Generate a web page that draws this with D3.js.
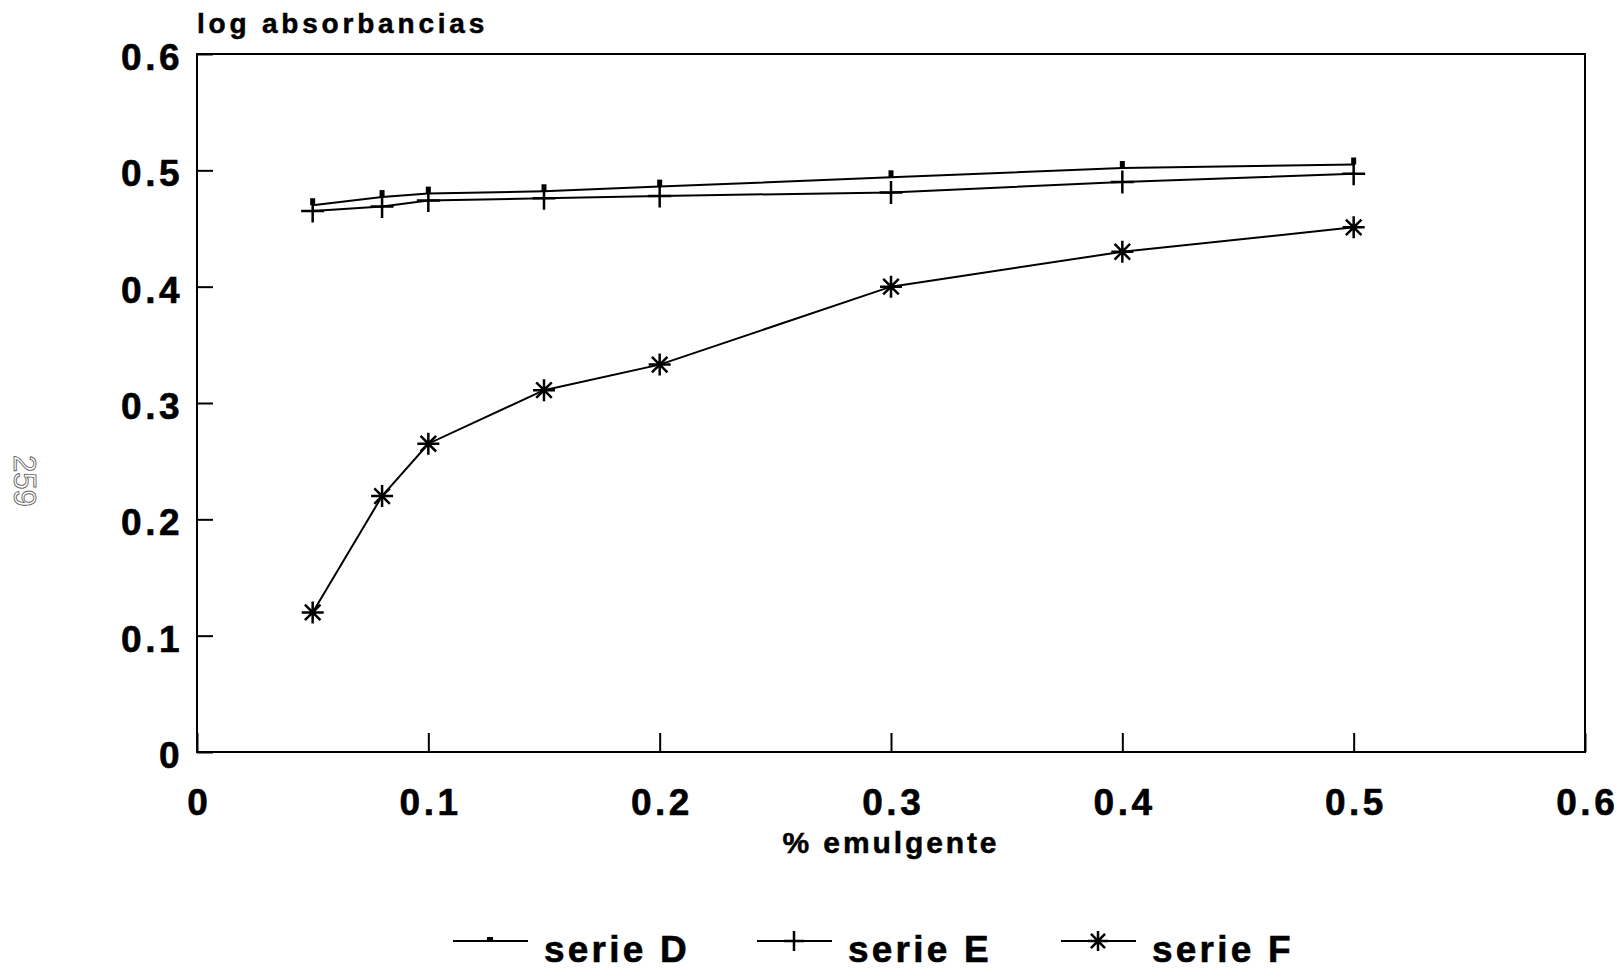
<!DOCTYPE html>
<html>
<head>
<meta charset="utf-8">
<script src="https://cdn.jsdelivr.net/npm/d3@7"></script>
<style>
  html, body { margin: 0; padding: 0; background: #fff; }
  svg { display: block; }
  text { font-family: "Liberation Sans", Arial, Helvetica, sans-serif; font-weight: bold; fill: #000; }
</style>
</head>
<body>
<svg id="chart" width="1620" height="969"></svg>
<script>
// ---- data ----
const xValues = [0.05, 0.08, 0.1, 0.15, 0.2, 0.3, 0.4, 0.5];
const serieD = [0.470, 0.477, 0.480, 0.482, 0.486, 0.494, 0.502, 0.505];
const serieE = [0.465, 0.469, 0.474, 0.476, 0.478, 0.481, 0.490, 0.497];
const serieF = [0.120, 0.220, 0.265, 0.311, 0.333, 0.400, 0.430, 0.451];
const seriesNames = ["serie D", "serie E", "serie F"];
const xTicks = [0, 0.1, 0.2, 0.3, 0.4, 0.5, 0.6];
const xTickLabels = ["0", "0.1", "0.2", "0.3", "0.4", "0.5", "0.6"];
const yTicks = [0, 0.1, 0.2, 0.3, 0.4, 0.5, 0.6];
const yTickLabels = ["0", "0.1", "0.2", "0.3", "0.4", "0.5", "0.6"];
const yTitle = "log absorbancias";
const xTitle = "% emulgente";
const pageNumber = "259";

// ---- layout ----
const svg = d3.select("#chart");
const L = 197, R = 1585, T = 54, B = 752;
const x = d3.scaleLinear().domain([0, 0.6]).range([L, R]);
const y = d3.scaleLinear().domain([0, 0.6]).range([B, T]);

// frame
svg.append("rect").attr("x", L).attr("y", T).attr("width", R - L).attr("height", B - T)
  .attr("fill", "none").attr("stroke", "#000").attr("stroke-width", 2);

// x axis (inward ticks)
const xAxis = svg.append("g").attr("transform", `translate(0,${B})`)
  .call(d3.axisBottom(x).tickValues(xTicks).tickSizeInner(-19).tickSizeOuter(0)
    .tickPadding(37).tickFormat((d, i) => xTickLabels[i]));
xAxis.select(".domain").remove();
xAxis.selectAll(".tick line").attr("stroke", "#000").attr("stroke-width", 2);
xAxis.selectAll(".tick text").attr("font-size", 37).attr("letter-spacing", 3.5)
  .attr("dx", 1.75).attr("fill", "#000").attr("stroke", "#000").attr("stroke-width", 0.6)
  .style("font-family", '"Liberation Sans", Arial, sans-serif').style("font-weight", "bold");

// y axis (inward ticks)
const yAxis = svg.append("g").attr("transform", `translate(${L},0)`)
  .call(d3.axisLeft(y).tickValues(yTicks).tickSizeInner(-16).tickSizeOuter(0)
    .tickPadding(14).tickFormat((d, i) => yTickLabels[i]));
yAxis.select(".domain").remove();
yAxis.selectAll(".tick line").attr("stroke", "#000").attr("stroke-width", 2);
yAxis.selectAll(".tick text").attr("font-size", 37).attr("letter-spacing", 3.5)
  .attr("dy", 15.5).attr("fill", "#000").attr("stroke", "#000").attr("stroke-width", 0.6)
  .style("font-family", '"Liberation Sans", Arial, sans-serif').style("font-weight", "bold");

// titles
svg.append("text").attr("x", 197).attr("y", 33).attr("font-size", 28)
  .attr("stroke", "#000").attr("stroke-width", 0.5)
  .attr("letter-spacing", 3.8).text(yTitle);
svg.append("text").attr("x", 891).attr("y", 853).attr("font-size", 30)
  .attr("stroke", "#000").attr("stroke-width", 0.5)
  .attr("letter-spacing", 2.9).attr("text-anchor", "middle").text(xTitle);

// page number
svg.append("text").attr("transform", "translate(14,455) rotate(90)")
  .attr("font-size", 31).style("font-weight", "normal")
  .style("fill", "none").attr("stroke", "#666").attr("stroke-width", 0.9)
  .text(pageNumber);

// lines
const seriesData = [serieD, serieE, serieF];
const line = d3.line().x((d, i) => x(xValues[i])).y(d => y(d));
seriesData.forEach(s => {
  svg.append("path").datum(s).attr("d", line).attr("fill", "none")
    .attr("stroke", "#000").attr("stroke-width", 2);
});

// markers
function markD(g, cx, cy) {
  g.append("rect").attr("x", cx - 2.5).attr("y", cy - 7).attr("width", 5).attr("height", 7).attr("fill", "#000");
}
function markE(g, cx, cy, r) {
  g.append("path").attr("d", `M${cx - r},${cy}H${cx + r}M${cx},${cy - r}V${cy + r}`)
    .attr("stroke", "#000").attr("stroke-width", 2.5).attr("fill", "none");
}
function markF(g, cx, cy, r) {
  const a = r * Math.cos(Math.PI / 4), b = r * Math.sin(Math.PI / 4);
  g.append("path").attr("d",
    `M${cx - r},${cy}H${cx + r}M${cx},${cy - r}V${cy + r}` +
    `M${cx - a},${cy - b}L${cx + a},${cy + b}M${cx - a},${cy + b}L${cx + a},${cy - b}`)
    .attr("stroke", "#000").attr("stroke-width", 2.5).attr("fill", "none");
}
const mk = svg.append("g");
serieD.forEach((v, i) => markD(mk, x(xValues[i]), y(v)));
serieE.forEach((v, i) => markE(mk, x(xValues[i]), y(v), 11.5));
serieF.forEach((v, i) => markF(mk, x(xValues[i]), y(v), 11));

// legend
const lg = svg.append("g");
const markers = [
  (g, cx, cy) => g.append("rect").attr("x", cx - 3).attr("y", cy - 4).attr("width", 6).attr("height", 4).attr("fill", "#000"),
  (g, cx, cy) => markE(g, cx, cy, 10),
  (g, cx, cy) => markF(g, cx, cy, 10)
];
seriesNames.forEach((name, i) => {
  const x0 = 453 + i * 304, ly = 941;
  lg.append("line").attr("x1", x0).attr("x2", x0 + 75).attr("y1", ly).attr("y2", ly)
    .attr("stroke", "#000").attr("stroke-width", 2);
  markers[i](lg, x0 + 37, ly);
  lg.append("text").attr("x", x0 + 91).attr("y", 962).attr("font-size", 37)
    .attr("stroke", "#000").attr("stroke-width", 0.6)
    .attr("letter-spacing", 3.2).text(name);
});
</script>
</body>
</html>
